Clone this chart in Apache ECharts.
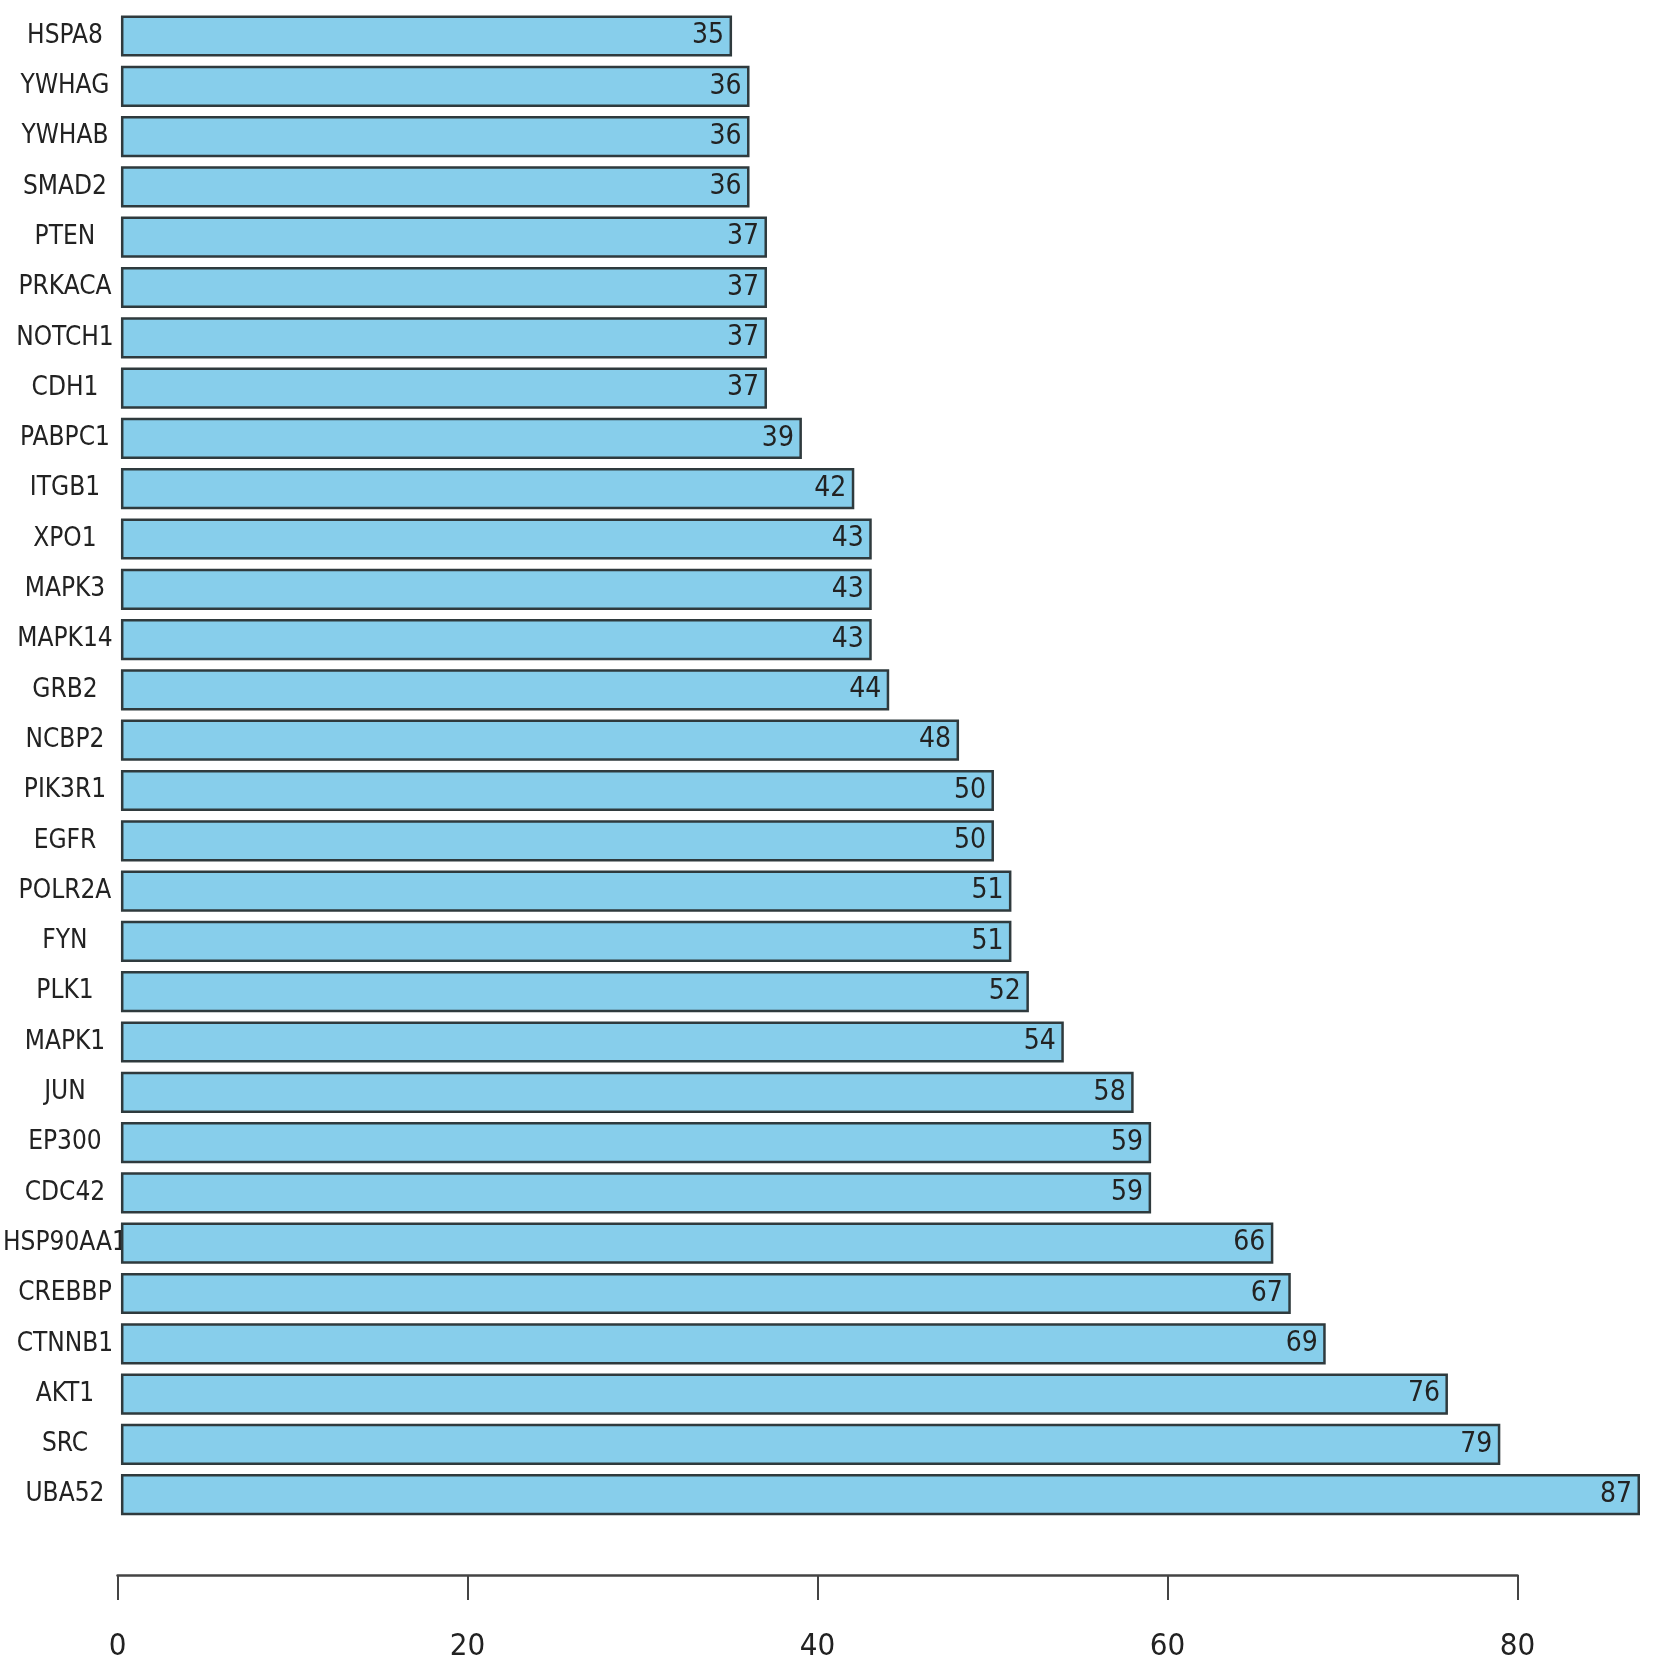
<!DOCTYPE html>
<html>
<head>
<meta charset="utf-8">
<script src="https://cdn.jsdelivr.net/npm/echarts@6/dist/echarts.min.js"></script>
<style>
html,body{margin:0;padding:0;background:#fff;}
#chart{width:1654px;height:1677px;}
</style>
</head>
<body>
<div id="chart"></div>
<script>
const genes = ["HSPA8","YWHAG","YWHAB","SMAD2","PTEN","PRKACA","NOTCH1","CDH1","PABPC1","ITGB1","XPO1","MAPK3","MAPK14","GRB2","NCBP2","PIK3R1","EGFR","POLR2A","FYN","PLK1","MAPK1","JUN","EP300","CDC42","HSP90AA1","CREBBP","CTNNB1","AKT1","SRC","UBA52"];
const counts = [35,36,36,36,37,37,37,37,39,42,43,43,43,44,48,50,50,51,51,52,54,58,59,59,66,67,69,76,79,87];
const xTicks = [0,20,40,60,80];

const FONT = "'Liberation Sans Narrow','DejaVu Sans Condensed','Arial Narrow',sans-serif";
const chart = echarts.init(document.getElementById('chart'));
const unit = 17.5;
const left0 = 117.5;
chart.setOption({
  animation:false,
  backgroundColor:'#ffffff',
  grid:[
    {left:left0, top:10.85, height:1509, width:87*unit},
    {left:left0, top:1545, height:30, width:80*unit}
  ],
  xAxis:[
    {gridIndex:0, type:'value', min:0, max:87, show:false},
    {gridIndex:1, type:'value', min:xTicks[0], max:xTicks[xTicks.length-1], interval:20,
     position:'bottom',
     axisLine:{show:true, lineStyle:{color:'#444', width:2.5}},
     axisTick:{show:true, length:25, lineStyle:{color:'#444', width:2}},
     splitLine:{show:false},
     axisLabel:{show:true, margin:56, fontSize:31, color:'#222', fontFamily:FONT,
       formatter:function(v){return xTicks.indexOf(v)>=0 ? String(v) : '';}}
    }
  ],
  yAxis:[
    {gridIndex:0, type:'category', data:genes, inverse:true,
     axisLine:{show:false}, axisTick:{show:false}, splitLine:{show:false},
     axisLabel:{margin:56, align:'center', fontSize:26, color:'#222', fontFamily:FONT, padding:[4,0,0,0]}},
    {gridIndex:1, type:'value', show:false}
  ],
  series:[{
    type:'bar', xAxisIndex:0, yAxisIndex:0,
    data:counts,
    barWidth:'82%',
    itemStyle:{color:'#87CEEB', borderColor:'#2f3a3d', borderWidth:2.5},
    label:{show:true, position:'insideRight', distance:8, fontSize:28, color:'#222', fontFamily:FONT, padding:[4,0,0,0]}
  }]
});
</script>
</body>
</html>
